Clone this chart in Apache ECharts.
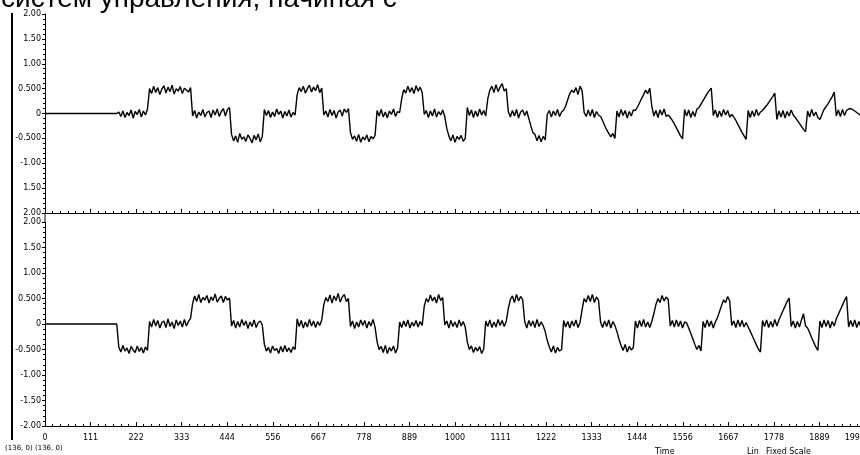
<!DOCTYPE html>
<html><head><meta charset="utf-8">
<script src="https://cdn.jsdelivr.net/npm/echarts@6/dist/echarts.min.js"></script>
<style>html,body{margin:0;padding:0;background:#fff}#c{width:860px;height:455px}</style>
</head><body><div id="c"></div>
<script>
const xStep = 5;
const xMax = 2000;
const xTickLabels = ['0','111','222','333','444','556','667','778','889','1000','1111','1222','1333','1444','1556','1667','1778','1889','1999'];
const topYLabels = ['2.00','1.50','-1.00','-0.500','0','0.500','1.00','1.50','2.00'];
const bottomYLabels = ['-2.00','-1.50','-1.00','-0.500','0','0.500','1.00','1.50','2.00'];
const titleText = 'систем управления, начиная с';

const topSignal = [
 0,0,0,0,0,0,0,0,0,0, 0,0,0,0,0,0,0,0,0,0, 0,0,0,0,0,0,0,0,0,0, 0,0,0,0,0,0,
 0.03,-0.06,0.05,-0.08,0.02,-0.04,0.07,-0.09,0.04,-0.02,0.08,-0.07,0.05,-0.03,0.09,
 0.50,0.40,0.55,0.42,0.52,0.38,0.49,0.56,0.41,0.53,0.44,0.57,0.39,0.50,0.45,0.54,0.40,0.51,0.47,0.43,0.52,
 -0.05,0.06,-0.09,0.03,-0.04,0.08,-0.07,0.02,0.05,-0.08,0.07,-0.03,0.09,-0.06,0.04,0.10,-0.05,0.08,0.12,
 -0.42,-0.55,-0.45,-0.58,-0.40,-0.52,-0.47,-0.56,-0.43,-0.50,-0.59,-0.44,-0.53,-0.41,-0.57,-0.46,
 0.08,-0.04,0.06,-0.08,0.03,-0.06,0.09,-0.02,0.05,-0.09,0.04,-0.05,0.07,-0.07,0.02,-0.03,
 0.38,0.52,0.44,0.55,0.41,0.50,0.57,0.43,0.53,0.46,0.58,0.42,0.51,
 -0.03,0.05,-0.07,0.08,-0.04,0.06,-0.09,0.03,0.07,-0.05,0.09,0.02,0.10,
 -0.38,-0.52,-0.45,-0.56,-0.42,-0.58,-0.47,-0.53,-0.43,-0.57,-0.46,-0.51,-0.44,
 0.06,-0.05,0.08,-0.07,0.03,-0.09,0.05,-0.02,0.09,-0.06,0.04,0.02,
 0.30,0.48,0.41,0.55,0.43,0.52,0.40,0.56,0.45,0.53,0.42,
 -0.02,0.06,-0.08,0.05,-0.05,0.09,-0.07,0.04,-0.03,0.07,-0.06,
 -0.30,-0.45,-0.55,-0.43,-0.58,-0.46,-0.52,-0.44,-0.56,-0.50,
 0.12,-0.04,0.07,-0.08,0.05,-0.06,0.09,-0.03,0.06,-0.05,
 0.30,0.47,0.55,0.42,0.58,0.44,0.53,0.60,0.45,0.50,
 0.04,-0.07,0.06,-0.05,0.08,-0.09,0.03,0.07,-0.04,0.05,
 -0.10,-0.25,-0.38,
 -0.42,-0.55,-0.44,-0.57,-0.46,-0.53,
 -0.02,0.06,-0.07,0.05,-0.04,0.08,-0.06,0.03,0.07,
 0.15,0.28,0.40,0.47,
 0.42,0.52,0.38,0.55,0.46,
 0.02,-0.06,0.07,-0.05,0.08,-0.08,0.04,-0.03,
 -0.06,-0.14,-0.24,-0.33,-0.40,-0.47,-0.40,-0.50,
 0.05,-0.07,0.08,-0.04,0.06,-0.09,0.04,-0.05,0.07,
 0.06,0.13,0.21,0.30,0.38,0.47,0.40,0.51,
 0.15,
 -0.05,0.06,-0.08,0.07,-0.03,0.09,-0.06,
 -0.03,-0.08,-0.14,-0.21,-0.29,-0.37,-0.45,-0.51,
 0.08,-0.05,0.07,-0.08,0.04,-0.06,0.09,
 0.12,0.19,0.26,0.33,0.40,0.46,0.51,
 -0.04,0.07,-0.08,0.05,-0.06,0.08,-0.03,0.06,-0.07,
 -0.02,-0.07,-0.14,-0.22,-0.30,-0.38,-0.45,-0.52,
 0.06,-0.08,0.05,-0.06,0.08,-0.04,0.03,
 0.06,0.11,0.16,0.22,0.28,0.34,0.41,
 -0.12,0.05,-0.07,0.06,-0.09,0.04,-0.05,0.07,
 -0.03,-0.08,-0.14,-0.20,-0.26,-0.32,-0.37,
 0.05,-0.07,0.08,-0.05,0.03,-0.08,-0.12,
 -0.02,0.08,0.14,0.20,0.27,0.34,0.43,
 -0.05,0.07,-0.06,0.08,-0.04,0.06,
 0.09,0.10,0.08,0.05,0.02,-0.01,-0.04,-0.05
];

const bottomSignal = [
 0,0,0,0,0,0,0,0,0,0, 0,0,0,0,0,0,0,0,0,0, 0,0,0,0,0,0,0,0,0,0, 0,0,0,0,0,0,
 -0.45,-0.55,-0.42,-0.53,-0.47,-0.58,-0.44,-0.51,-0.56,-0.43,-0.54,-0.46,-0.57,-0.45,-0.52,
 0.05,-0.06,0.09,-0.04,0.07,-0.08,0.03,0.06,-0.07,0.10,-0.05,0.04,-0.09,0.08,-0.03,0.06,-0.06,0.09,-0.04,0.05,0.11,
 0.40,0.55,0.44,0.58,0.42,0.52,0.47,0.56,0.41,0.53,0.46,0.59,0.43,0.50,0.55,0.42,0.54,0.47,0.51,
 -0.04,0.07,-0.08,0.05,-0.06,0.09,-0.03,0.06,-0.09,0.04,-0.05,0.08,-0.07,0.03,0.06,-0.02,
 -0.40,-0.53,-0.46,-0.57,-0.43,-0.52,-0.48,-0.58,-0.44,-0.55,-0.42,-0.54,-0.47,-0.56,-0.45,-0.50,
 0.10,-0.05,0.07,-0.08,0.04,-0.06,0.09,-0.04,0.06,-0.07,0.05,-0.03,0.08,
 0.38,0.52,0.44,0.57,0.41,0.55,0.46,0.60,0.43,0.53,0.58,0.44,0.50,
 -0.05,0.06,-0.09,0.04,-0.06,0.08,-0.03,0.07,-0.08,0.05,-0.04,0.09,-0.06,
 -0.35,-0.50,-0.44,-0.56,-0.42,-0.58,-0.46,-0.53,-0.43,-0.57,-0.47,
 0.04,-0.07,0.06,-0.05,0.08,-0.08,0.03,-0.04,0.07,-0.06,0.05,-0.03,
 0.35,0.50,0.43,0.57,0.45,0.53,0.41,0.58,0.46,0.52,
 -0.02,0.06,-0.08,0.07,-0.05,0.04,-0.07,0.08,-0.04,0.05,-0.06,
 -0.35,-0.50,-0.43,-0.56,-0.46,-0.53,-0.44,-0.58,-0.49,
 0.06,-0.05,0.08,-0.07,0.04,-0.06,0.09,-0.03,0.07,-0.05,0.05,
 0.30,0.48,0.55,0.42,0.58,0.45,0.54,0.48,
 0.05,-0.08,0.07,-0.04,0.06,-0.07,0.09,-0.05,0.04,-0.03,
 -0.15,-0.32,-0.45,-0.55,-0.43,-0.57,-0.46,-0.53,-0.50,
 0.07,-0.06,0.05,-0.08,0.06,-0.04,0.08,-0.07,0.03,
 0.28,0.50,0.43,0.56,0.44,0.58,0.42,0.53,0.47,
 0.04,-0.07,0.06,-0.05,0.08,-0.08,0.05,-0.03,
 -0.15,-0.30,-0.42,
 -0.52,-0.40,-0.55,-0.44,-0.51,-0.46,
 0.06,-0.08,0.07,-0.05,0.09,-0.06,0.04,-0.07,0.05,
 0.20,0.38,
 0.50,0.42,0.56,0.45,0.53,0.48,
 -0.04,0.07,-0.06,0.08,-0.05,0.06,-0.08,0.04,0.02,
 -0.08,-0.18,-0.29,-0.40,-0.50,
 -0.42,-0.53,
 0.05,-0.07,0.08,-0.05,0.06,-0.08,0.04,
 0.12,0.24,0.36,0.47,
 0.42,0.54,0.45,
 -0.03,0.06,-0.07,0.08,-0.05,0.07,-0.06,0.03,
 -0.06,-0.14,-0.23,-0.32,-0.41,-0.49,-0.55,
 0.07,-0.05,0.08,-0.07,0.05,-0.06,0.09,-0.04,
 0.08,0.17,0.26,0.35,0.44,0.51,
 -0.05,0.06,-0.08,0.05,-0.06,0.08,0.20,-0.04,
 -0.08,-0.17,-0.27,-0.36,-0.45,-0.52,
 0.06,-0.07,0.08,-0.05,0.07,-0.08,0.05,-0.04,
 0.10,0.19,0.28,0.37,0.46,0.54,
 -0.06,0.07,-0.05,0.08,-0.07,0.05,-0.06,0.04
];

const toPoints = arr => arr.map((v, i) => [i * xStep, v]);
const xInterval = xMax / 18;
const fontFam = '"DejaVu Sans", sans-serif';

function xAxisCfg(gridIndex, showLabels) {
  return {
    type: 'value', gridIndex, min: 0, max: xMax, interval: xInterval,
    axisLine: { show: true, onZero: false, lineStyle: { color: '#000', width: 1 } },
    axisTick: { show: true, inside: true, length: 4, lineStyle: { color: '#000' } },
    minorTick: { show: true, splitNumber: 6, length: 2, lineStyle: { color: '#000' } },
    splitLine: { show: false },
    axisLabel: {
      show: showLabels, color: '#000', fontSize: 8, fontFamily: fontFam, margin: 8,
      showMinLabel: true, showMaxLabel: true, alignMaxLabel: 'right',
      formatter: v => { const k = Math.round(v / xInterval); return xTickLabels[k] !== undefined ? xTickLabels[k] : ''; }
    }
  };
}
function yAxisCfg(gridIndex, labels) {
  return {
    type: 'value', gridIndex, min: -2, max: 2, interval: 0.5,
    axisLine: { show: true, onZero: false, lineStyle: { color: '#000', width: 1 } },
    axisTick: { show: true, length: 3, lineStyle: { color: '#000' } },
    minorTick: { show: true, splitNumber: 5, length: 2, lineStyle: { color: '#000' } },
    splitLine: { show: false },
    axisLabel: {
      color: '#000', fontSize: 8, fontFamily: fontFam, margin: 4,
      formatter: v => { const k = Math.round((v + 2) / 0.5); return labels[k] !== undefined ? labels[k] : ''; }
    }
  };
}

const chart = echarts.init(document.getElementById('c'), null, { renderer: 'canvas' });
chart.setOption({
  animation: false,
  backgroundColor: '#fff',
  grid: [
    { left: 45, top: 14, width: 820, height: 199, outerBoundsMode: 'none', containLabel: false },
    { left: 45, top: 222, width: 820, height: 204, outerBoundsMode: 'none', containLabel: false }
  ],
  xAxis: [xAxisCfg(0, false), xAxisCfg(1, true)],
  yAxis: [yAxisCfg(0, topYLabels), yAxisCfg(1, bottomYLabels)],
  series: [
    { type: 'line', xAxisIndex: 0, yAxisIndex: 0, data: toPoints(topSignal), showSymbol: false, symbol: 'none',
      lineStyle: { color: '#000', width: 1.4 }, silent: true },
    { type: 'line', xAxisIndex: 1, yAxisIndex: 1, data: toPoints(bottomSignal), showSymbol: false, symbol: 'none',
      lineStyle: { color: '#000', width: 1.4 }, silent: true }
  ],
  graphic: [
    { type: 'line', shape: { x1: 12, y1: 13, x2: 12, y2: 440 }, style: { stroke: '#000', lineWidth: 2 } },
    { type: 'line', shape: { x1: 45, y1: 213, x2: 45, y2: 222 }, style: { stroke: '#000', lineWidth: 1 } },
    { type: 'text', style: { text: titleText, x: 1, y: -1, fontSize: 28, fontFamily: '"Liberation Sans", Arial, sans-serif', fill: '#000', verticalAlign: 'middle' } },
    { type: 'text', style: { text: '(136, 0) (136, 0)', x: 5, y: 448, fontSize: 7, fontFamily: fontFam, fill: '#000', verticalAlign: 'middle' } },
    { type: 'text', style: { text: 'Time', x: 655, y: 452, fontSize: 8, fontFamily: fontFam, fill: '#000', verticalAlign: 'middle' } },
    { type: 'text', style: { text: 'Lin', x: 747, y: 452, fontSize: 8, fontFamily: fontFam, fill: '#000', verticalAlign: 'middle' } },
    { type: 'text', style: { text: 'Fixed Scale', x: 766, y: 452, fontSize: 8, fontFamily: fontFam, fill: '#000', verticalAlign: 'middle' } }
  ]
});
</script>
</body></html>
